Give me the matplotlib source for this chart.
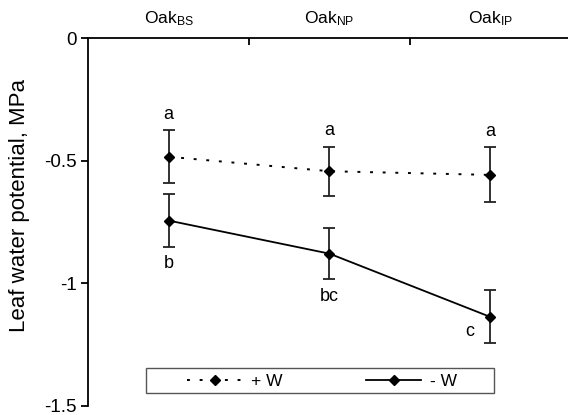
import matplotlib.pyplot as plt
from matplotlib.patches import Rectangle
import numpy as np

plt.rcParams['font.family'] = ['Liberation Sans', 'DejaVu Sans']
plt.rcParams['mathtext.fontset'] = 'custom'
plt.rcParams['mathtext.rm'] = 'Liberation Sans'
plt.rcParams['mathtext.it'] = 'Liberation Sans'

# data
sites = ['Oak$_{\\mathrm{BS}}$', 'Oak$_{\\mathrm{NP}}$', 'Oak$_{\\mathrm{IP}}$']
plus_w = [-0.484, -0.543, -0.558]
plus_w_err = [0.108, 0.099, 0.112]
minus_w = [-0.744, -0.879, -1.137]
minus_w_err = [0.107, 0.103, 0.108]
plus_letters = ['a', 'a', 'a']
minus_letters = ['b', 'bc', 'c']

x = np.arange(len(sites)) + 0.5

fig = plt.figure(figsize=(5.68, 4.15), dpi=100)
ax = fig.add_axes([0.155, 0.0217, 0.85, 0.8867])

for vals, errs in [(plus_w, plus_w_err), (minus_w, minus_w_err)]:
    ax.errorbar(x, vals, yerr=errs, fmt='none', ecolor='#222222',
                elinewidth=1.3, capsize=4.2, capthick=1.3)
ax.plot(x, plus_w, color='black', linestyle=(0, (1.5, 5)), linewidth=1.4,
        marker='D', markersize=5.5, label='+ W')
ax.plot(x, minus_w, color='black', linestyle='-', linewidth=1.3,
        marker='D', markersize=5.5, label='- W')

# significance letters
for xi, yi, e, s in zip(x, plus_w, plus_w_err, plus_letters):
    ax.text(xi, yi + e + 0.065, s, ha='center', va='center', fontsize=13)
for i, (xi, yi, e, s) in enumerate(zip(x, minus_w, minus_w_err, minus_letters)):
    if i == 2:
        ax.text(xi - 0.13, yi - 0.06, s, ha='center', va='center', fontsize=13)
    else:
        ax.text(xi, yi - e - 0.07, s, ha='center', va='center', fontsize=13)

ax.set_xlim(0, 3)
ax.set_ylim(-1.5, 0)

ax.spines['right'].set_visible(False)
ax.spines['bottom'].set_visible(False)
ax.spines['left'].set_linewidth(1.3)
ax.spines['top'].set_linewidth(1.3)

ax.xaxis.tick_top()
ax.set_xticks([1, 2, 3])
ax.set_xticklabels([])
ax.tick_params(axis='x', direction='in', length=5, width=1.3)
ax.set_xticks(x, minor=True)
ax.set_xticklabels(sites, minor=True, fontsize=12.5)
ax.tick_params(axis='x', which='minor', length=0, pad=7)

ax.set_yticks([0, -0.5, -1, -1.5])
ax.set_yticklabels(['0', '-0.5', '-1', '-1.5'], fontsize=13.5)
ax.tick_params(axis='y', direction='out', length=5, width=1.3, pad=3)
fig.text(20 / 568, 1 - 206 / 415, 'Leaf water potential, MPa', rotation=90,
         ha='center', va='center', fontsize=16)

leg = ax.legend(ncol=2, loc='center', bbox_to_anchor=(322 / 568, 1 - 381 / 415),
                bbox_transform=fig.transFigure, frameon=False, fontsize=12.5,
                handlelength=3.2, columnspacing=4.8, handletextpad=0.5,
                borderpad=0)
fig.patches.append(Rectangle((146 / 568, 1 - 393 / 415), 348 / 568, 25 / 415,
                             transform=fig.transFigure, fill=False,
                             edgecolor='#555555', linewidth=1.0))

fig.savefig('out.png', dpi=100)
